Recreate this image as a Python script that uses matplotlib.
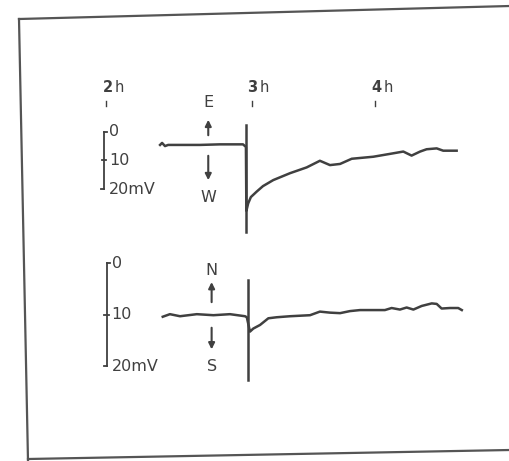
import matplotlib.pyplot as plt
from matplotlib.lines import Line2D

# time in minutes, potentials in mV (downward = more negative swing as drawn)
hour_labels = ['2', '3', '4']
hour_pos = [120, 185.1, 240]

ew_t = [144.1, 145.0, 146.3, 147.7, 153.0, 161.9, 170.8, 181.1, 182.4, 182.6,
        183.4, 184.6, 187.2, 190.0, 194.6, 202.1, 209.5, 215.4, 219.9, 224.4,
        229.6, 239.2, 246.7, 252.6, 256.3, 260.1, 263.0, 267.5, 270.4, 276.4]
ew_mv = [4.6, 3.9, 5.0, 4.6, 4.6, 4.6, 4.4, 4.4, 5.3, 27.5,
         24.9, 22.7, 20.8, 18.9, 16.8, 14.4, 12.4, 10.1, 11.6, 11.2,
         9.4, 8.7, 7.7, 6.9, 8.3, 6.9, 6.1, 5.8, 6.6, 6.6]

ns_t = [145.3, 148.5, 153.0, 160.5, 167.9, 175.3, 182.0, 182.8, 184.2, 185.7,
        188.7, 192.4, 196.1, 202.1, 211.0, 215.4, 219.9, 224.4, 228.8, 233.3,
        244.4, 247.4, 251.1, 254.1, 257.1, 260.8, 265.3, 267.5, 269.7, 273.4,
        277.1, 278.7]
ns_mv = [10.4, 9.9, 10.3, 9.9, 10.1, 9.9, 10.3, 10.5, 13.3, 12.7,
         12.0, 10.7, 10.5, 10.3, 10.1, 9.4, 9.6, 9.7, 9.3, 9.1,
         9.1, 8.7, 9.0, 8.6, 9.0, 8.3, 7.8, 7.9, 8.8, 8.7,
         8.7, 9.1]

scale_vals = [0, 10, 20]
scale_labels = ['0', '10', '20mV']

ink = '#404040'
fig = plt.figure(figsize=(5.1, 4.61), dpi=100)

# frame of the scanned figure
for xs, ys in [([19/510, 510/510], [1-19/461, 1-6/461]),
               ([19/510, 28/510], [1-19/461, 0]),
               ([28/510, 1], [1-459/461, 1-450/461])]:
    fig.add_artist(Line2D(xs, ys, color='#555555', lw=1.6))

top = fig.add_axes([0, 0, 1, 1])
top.set_xlim(72.7, 300.2)
top.set_ylim(114.3, -45.7)
bot = fig.add_axes([0, 0, 1, 1])
bot.set_xlim(72.7, 300.2)
bot.set_ylim(38.5, -51.3)
for ax in (top, bot):
    ax.axis('off')
    ax.patch.set_alpha(0)

# hour marks
for lab, p in zip(hour_labels, hour_pos):
    top.plot([p, p], [-10.7, -9.0], color=ink, lw=1)
    top.text(p - 2.0, -15.5, r'$\mathbf{%s}\,$h' % lab, ha='left',
             va='center', fontsize=10.5, color=ink)

def panel(ax, t, mv, stim, stim_y, bar_x, arrow_x, up, down, lab_up, lab_dn):
    ax.plot(t, mv, color=ink, lw=1.8, solid_joinstyle='round')
    ax.plot([stim, stim], stim_y, color=ink, lw=1.8)
    ax.plot([bar_x, bar_x], [0, 20], color=ink, lw=1.3)
    for v, lab in zip(scale_vals, scale_labels):
        if v == 0:
            ax.plot([bar_x, bar_x + 1.3], [v, v], color=ink, lw=1.3)
        elif v == 10:
            ax.plot([bar_x - 1.0, bar_x + 1.0], [v, v], color=ink, lw=1.3)
        else:
            ax.plot([bar_x - 1.3, bar_x], [v, v], color=ink, lw=1.3)
        ax.text(bar_x + 2.2, v, lab, ha='left', va='center', fontsize=11.5,
                color=ink)
    for (tail, head) in (up, down):
        ax.annotate('', xy=(arrow_x, head), xytext=(arrow_x, tail),
                    arrowprops=dict(arrowstyle='-|>', color=ink, lw=1.5,
                                    mutation_scale=9))
    ax.text(arrow_x, lab_up[1], lab_up[0], ha='center', va='center',
            fontsize=11.5, color=ink)
    ax.text(arrow_x, lab_dn[1], lab_dn[0], ha='center', va='center',
            fontsize=11.5, color=ink)

panel(top, ew_t, ew_mv, 182.4, [-2.3, 34.8], 119.1, 165.6,
      (2.2, -5.1), (7.4, 17.8), ('E', -10.0), ('W', 22.7))
panel(bot, ns_t, ns_mv, 183.2, [3.3, 22.7], 120.3, 167.1,
      (8.1, 3.1), (12.0, 17.3), ('N', 1.3), ('S', 20.0))

fig.savefig('out.png', dpi=100)
